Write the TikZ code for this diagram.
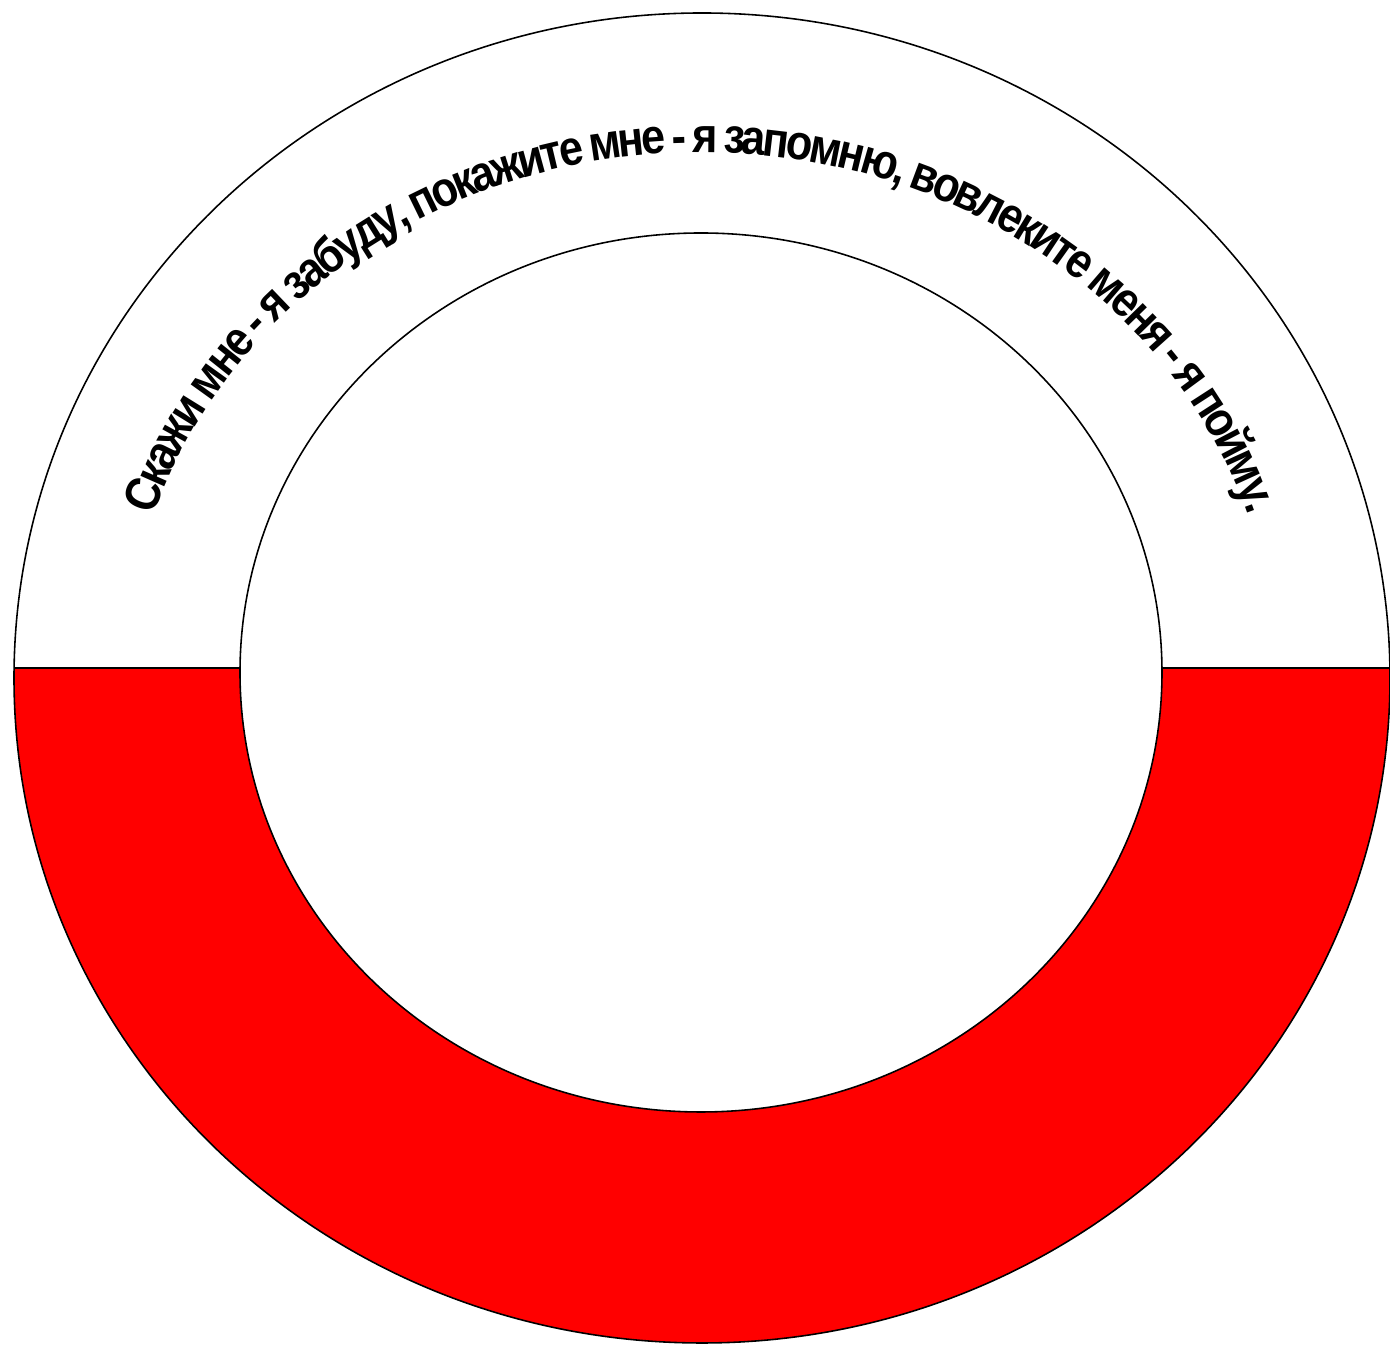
\documentclass[tikz,border=0pt]{standalone}
\usepackage{fontspec}
\newfontfamily\arcfont[FakeStretch=0.88]{Liberation Sans Bold}
\usetikzlibrary{decorations.text}
\definecolor{band}{HTML}{FF0000}
\tikzset{
  % --- shapes
  ringline/.style = {draw=black, line width=0.45pt},
  bandfill/.style = {fill=band},
  hole/.style     = {fill=white},
  % --- text on the arc
  motto/.style    = {decorate, decoration={text effects along path, text align=center,
                     text={Скажи мне - я забуду, покажите мне - я запомню, вовлеките меня - я пойму.},
                     text effects/.cd, text along path,
                     characters={font=\arcfont\fontsize{14}{14}\selectfont, inner xsep=-0.46pt}}},
}
\begin{document}
\begin{tikzpicture}
  \useasboundingbox (0,0) rectangle (13.9,13.45);
  \coordinate (outc) at (7.02,6.67);
  \coordinate (inc)  at (7.01,6.725);
  \coordinate (ol) at (0.14,6.77);
  \coordinate (il) at (2.40,6.77);
  \coordinate (ir) at (11.62,6.77);
  \coordinate (or) at (13.90,6.77);
  % red lower half of the ring
  \begin{scope}
    \clip (0,0) rectangle (13.9,6.77);
    \fill[bandfill] (outc) ellipse[x radius=6.88, y radius=6.65];
  \end{scope}
  \fill[hole] (inc) ellipse[x radius=4.61, y radius=4.395];
  % outlines
  \draw[ringline] (outc) ellipse[x radius=6.88, y radius=6.65];
  \draw[ringline] (inc) ellipse[x radius=4.61, y radius=4.395];
  \draw[ringline] (ol) -- (il);
  \draw[ringline] (ir) -- (or);
  % motto
  \path[motto] (inc) ++(175:5.74 and 5.2)
    arc[start angle=175, end angle=5, x radius=5.74, y radius=5.2];
\end{tikzpicture}
\end{document}
